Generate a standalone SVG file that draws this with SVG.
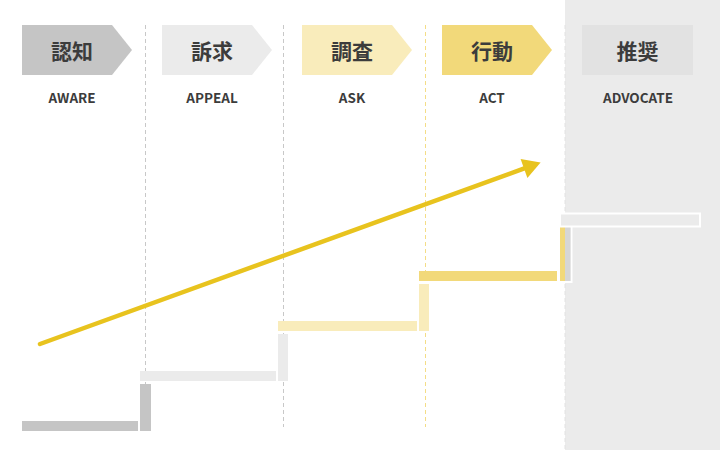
<svg xmlns="http://www.w3.org/2000/svg" width="720" height="450" viewBox="0 0 720 450">
<style>
.jp{font-family:"Noto Sans CJK JP","Noto Sans",sans-serif;font-weight:bold;font-size:21px;fill:#3c3c3c;text-anchor:middle}
.en{font-family:"Noto Sans CJK JP","Noto Sans",sans-serif;font-weight:bold;font-size:13.5px;fill:#3c3c3c;text-anchor:middle}
.dash{stroke-width:1;stroke-dasharray:4 3;fill:none}
</style>
<defs>
<polygon id="chev" points="0,0 90,0 110,25 90,50 0,50"/>
</defs>
<rect id="advocate-bg" x="565" y="0" width="155" height="450" fill="#ebebeb"/>
<g id="separators">
<line class="dash" x1="145.5" y1="25" x2="145.5" y2="427" stroke="#c8c8c8"/>
<line class="dash" x1="283.5" y1="25" x2="283.5" y2="427" stroke="#c8c8c8"/>
<line class="dash" x1="425.5" y1="25" x2="425.5" y2="427" stroke="#f4dd87"/>
<line class="dash" x1="565" y1="25" x2="565" y2="450" stroke="#e2e2e2"/>
</g>
<g id="node-aware">
<use href="#chev" x="22" y="25" fill="#c5c5c5"/>
<text class="jp" x="72" y="59">認知</text>
<text class="en" x="72" y="102.5">AWARE</text>
</g>
<g id="node-appeal">
<use href="#chev" x="162" y="25" fill="#ebebeb"/>
<text class="jp" x="212" y="59">訴求</text>
<text class="en" x="212" y="102.5">APPEAL</text>
</g>
<g id="node-ask">
<use href="#chev" x="302" y="25" fill="#f9ecbb"/>
<text class="jp" x="352" y="59">調査</text>
<text class="en" x="352" y="102.5">ASK</text>
</g>
<g id="node-act">
<use href="#chev" x="442" y="25" fill="#f2d97a"/>
<text class="jp" x="492" y="59">行動</text>
<text class="en" x="492" y="102.5">ACT</text>
</g>
<g id="node-advocate">
<rect x="582" y="25" width="111" height="50" fill="#e2e2e2"/>
<text class="jp" x="637.5" y="59">推奨</text>
<text class="en" x="638" y="102.5">ADVOCATE</text>
</g>
<g id="steps">
<rect x="22" y="421" width="116" height="10" fill="#c5c5c5"/>
<rect x="140" y="384" width="11" height="47" fill="#c5c5c5"/>
<rect x="140" y="371" width="136" height="10" fill="#ebebeb"/>
<rect x="278" y="334" width="10" height="47" fill="#ebebeb"/>
<rect x="278" y="321" width="139" height="10" fill="#f9ecbb"/>
<rect x="419" y="284" width="10" height="47" fill="#f9ecbb"/>
<rect x="419" y="271" width="138" height="10" fill="#f2d97a"/>
<rect x="559" y="226.5" width="12.5" height="55.5" fill="none" stroke="#ffffff" stroke-width="2"/>
<rect x="560" y="227" width="5" height="54" fill="#f2d97a"/>
<rect x="565" y="227" width="5.5" height="54" fill="#d6d6d6"/>
<rect x="560" y="213.5" width="140" height="13" fill="#ebebeb" stroke="#ffffff" stroke-width="2"/>
</g>
<g id="connectors">
<line x1="40" y1="344" x2="525" y2="168.2" stroke="#e8c31e" stroke-width="4.5" stroke-linecap="round"/>
<polygon points="540.6,162.4 527.4,177.9 520.6,159.1" fill="#e8c31e"/>
</g>
</svg>
